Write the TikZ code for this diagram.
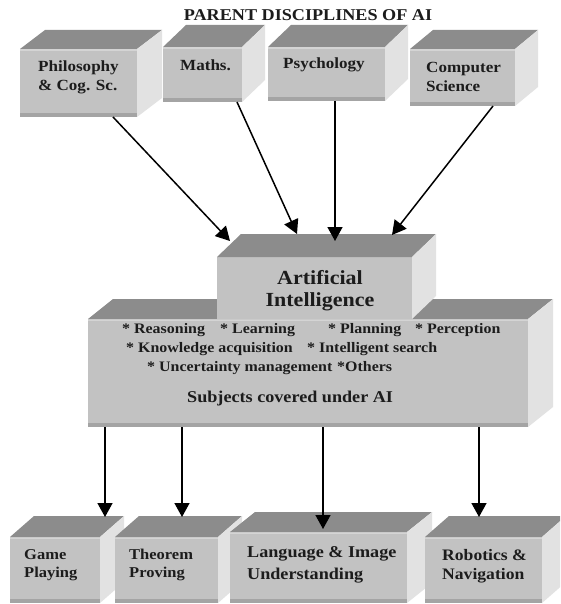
\documentclass[tikz,border=0pt]{standalone}
\usepackage{fontspec}
\setmainfont{Liberation Serif}[FakeStretch=1.1]
\usetikzlibrary{arrows.meta,calc}
\definecolor{frontc}{RGB}{194,194,194}
\definecolor{frontdk}{RGB}{164,164,164}
\definecolor{frontlt}{RGB}{212,212,212}
\definecolor{topc}{RGB}{140,140,140}
\definecolor{sidec}{RGB}{226,226,226}
\definecolor{txt}{RGB}{28,28,28}
\tikzset{
 frontplain/.style={rectangle, fill=frontc, inner sep=0pt, outer sep=0pt},
 front/.style={frontplain, path picture={
   \fill[frontdk] (path picture bounding box.south west) rectangle ([yshift=4pt]path picture bounding box.south east);
   \fill[frontlt] (path picture bounding box.north west) rectangle ([yshift=-2pt]path picture bounding box.north east);}},
 topface/.style={fill=topc},
 sideface/.style={fill=sidec},
 lbl/.style={font=\bfseries\fontsize{15.5}{19}\selectfont, text=txt, inner sep=0pt, align=left, anchor=west},
 arr/.style={line width=1.5pt, black, -{Triangle[width=15pt,length=14pt]}},
}
% name, x1, y1, x2, y2, dx, dy, style
\newcommand\cube[8]{%
 \node[#8, minimum width={(#4-#2)*1pt}, minimum height={(#5-#3)*1pt}] (#1) at ({(#2+#4)/2},{(#3+#5)/2}) {};
 \fill[topface] (#1.north west) -- ++(#6pt,#7pt) -- ([shift={(#6pt,#7pt)}]#1.north east) -- (#1.north east) -- cycle;
 \fill[sideface] (#1.north east) -- ++(#6pt,#7pt) -- ([shift={(#6pt,#7pt)}]#1.south east) -- (#1.south east) -- cycle;
}
\begin{document}
\begin{tikzpicture}[x=1pt,y=-1pt]
\useasboundingbox (0,0) rectangle (560,604);
\clip (0,0) rectangle (560,604);
\fill[white] (0,0) rectangle (560,604);

\node[font=\bfseries\fontsize{16.5}{19}\selectfont, text=txt, inner sep=0pt] (title) at (308,15) {PARENT DISCIPLINES OF AI};

% parent disciplines
\cube{phil}{20}{49}{137}{117}{25}{19}{front}
\cube{maths}{163}{47}{242}{102}{23}{22}{front}
\cube{psych}{268}{47}{385}{101}{23}{22}{front}
\cube{cs}{410}{49}{515}{106}{23}{19}{front}
\node[lbl] (phil-t) at (38,77.5) {Philosophy\\\& Cog. Sc.};
\node[lbl] (maths-t) at (180,65) {Maths.};
\node[lbl] (psych-t) at (283,65) {Psychology};
\node[lbl] (cs-t) at (426,77) {Computer\\Science};

% subjects box and AI box
\cube{subj}{88}{319}{528}{427}{25}{20}{front}
\cube{ai}{217}{257}{412}{319}{24}{23}{frontplain}
\node[font=\bfseries\fontsize{20}{22}\selectfont, text=txt, inner sep=0pt, align=center] (ai-t) at (320,291) {Artificial\\Intelligence};
\node[lbl, font=\bfseries\fontsize{14.5}{19}\selectfont] (list) at (122,349) {%
\makebox[98pt][l]{* Reasoning}\makebox[108pt][l]{* Learning}\makebox[87pt][l]{* Planning}* Perception\\
\hspace*{4pt}\makebox[181pt][l]{* Knowledge acquisition}* Intelligent search\\
\hspace*{25pt}\makebox[190pt][l]{* Uncertainty management}*Others};
\node[lbl, font=\bfseries\fontsize{16.5}{19}\selectfont] (subj-t) at (187,399) {Subjects covered under AI};

% application boxes
\cube{game}{10}{537}{100}{603}{24}{21}{front}
\cube{thm}{115}{537}{218}{603}{24}{21}{front}
\cube{lang}{230}{532}{407}{603}{25}{20}{front}
\cube{robot}{425}{537}{542}{603}{24}{21}{front}
\node[lbl, font=\bfseries\fontsize{15}{18}\selectfont] (game-t) at (24,565) {Game\\Playing};
\node[lbl, font=\bfseries\fontsize{15}{18}\selectfont] (thm-t) at (129,565) {Theorem\\Proving};
\node[lbl, font=\bfseries\fontsize{16.5}{22}\selectfont] (lang-t) at (247,565) {Language \& Image\\Understanding};
\node[lbl, font=\bfseries\fontsize{16}{19}\selectfont] (robot-t) at (442,566.5) {Robotics \&\\Navigation};

% arrow tips
\coordinate (ai1) at (230,241);
\coordinate (ai2) at (297,234);
\coordinate (ai3) at (335,241);
\coordinate (ai4) at (392,235);
\coordinate (g1) at (105,517);
\coordinate (t1) at (182,517);
\coordinate (l1) at (323,529);
\coordinate (r1) at (479,517);

\draw[arr] ([xshift=34.5pt]phil.south) -- (ai1);
\draw[arr] ([xshift=34.5pt]maths.south) -- (ai2);
\draw[arr] ([xshift=8.5pt]psych.south) -- (ai3);
\draw[arr] ([xshift=30.5pt]cs.south) -- (ai4);
\draw[arr] ([xshift=-203pt]subj.south) -- (g1);
\draw[arr] ([xshift=-126pt]subj.south) -- (t1);
\draw[arr] ([xshift=15pt]subj.south) -- (l1);
\draw[arr] ([xshift=171pt]subj.south) -- (r1);
\end{tikzpicture}
\end{document}
